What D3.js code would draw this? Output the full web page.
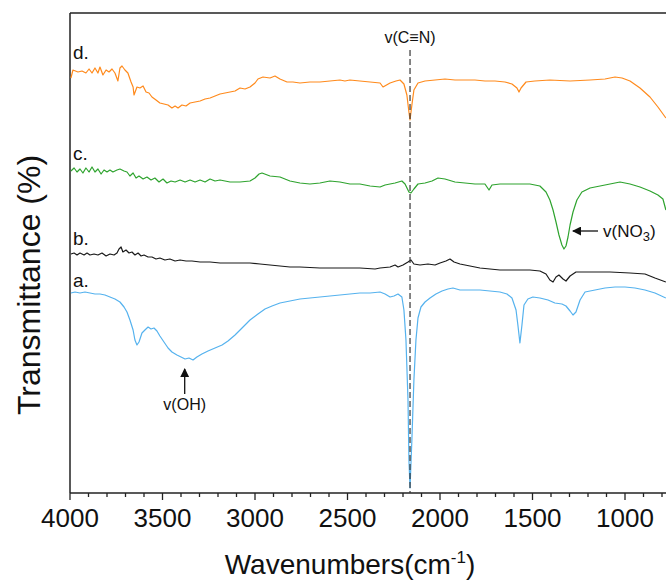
<!DOCTYPE html>
<html><head><meta charset="utf-8">
<script src="https://cdn.jsdelivr.net/npm/d3@7"></script>
<style>
html,body{margin:0;padding:0;background:#fff;}
svg{display:block;font-family:"Liberation Sans",Arial,sans-serif;}
</style></head>
<body>
<svg id="chart" width="666" height="582"></svg>
<script>
// ---- data: [wavenumber (cm-1), transmittance (offset, a.u.)] ----
const seriesD = [[3995,83.0],[3984,84.6],[3957,84.2],[3935,84.4],[3914,84.0],[3897,84.8],[3881,84.0],[3865,85.0],[3849,84.0],[3838,85.2],[3822,83.6],[3805,84.6],[3789,84.2],[3773,84.8],[3757,84.0],[3741,82.4],[3730,85.0],[3719,85.4],[3703,84.6],[3687,84.0],[3670,82.2],[3659,81.2],[3654,79.6],[3638,81.2],[3622,81.0],[3605,81.4],[3589,80.2],[3573,80.0],[3557,79.2],[3535,78.6],[3514,78.0],[3492,77.8],[3470,77.6],[3449,77.0],[3432,77.4],[3416,77.0],[3395,77.6],[3373,77.4],[3351,78.0],[3324,78.2],[3297,78.4],[3270,78.8],[3243,79.0],[3216,79.4],[3189,79.8],[3162,80.0],[3135,80.2],[3108,80.4],[3081,81.0],[3054,80.8],[3027,81.2],[3000,82.0],[2984,82.8],[2957,83.2],[2919,83.0],[2892,83.4],[2865,82.8],[2827,82.2],[2795,82.2],[2757,82.0],[2703,82.2],[2649,82.2],[2595,82.4],[2541,82.6],[2514,82.4],[2487,82.6],[2433,82.4],[2378,82.2],[2324,82.0],[2308,81.2],[2270,82.0],[2238,82.4],[2216,82.6],[2195,81.8],[2179,79.6],[2168,76.2],[2162,74.6],[2152,77.6],[2141,80.6],[2119,82.0],[2081,82.4],[2027,82.6],[1973,82.8],[1919,82.6],[1865,82.6],[1811,82.6],[1757,82.4],[1703,82.4],[1649,82.2],[1611,81.8],[1584,81.0],[1573,80.2],[1562,81.0],[1535,82.2],[1487,82.4],[1406,82.6],[1297,82.4],[1189,82.6],[1108,82.8],[1054,83.2],[1016,83.0],[973,82.4],[919,81.0],[865,79.2],[822,77.2],[779,75.0]];

const seriesC = [[3995,64.4],[3978,65.0],[3962,64.2],[3946,64.8],[3930,64.0],[3914,65.0],[3897,64.2],[3881,65.2],[3865,64.2],[3849,64.8],[3832,63.8],[3816,64.6],[3800,64.2],[3784,64.6],[3768,64.2],[3746,64.6],[3730,64.8],[3708,64.4],[3692,64.2],[3676,63.4],[3659,64.0],[3643,63.0],[3627,63.4],[3605,62.8],[3584,63.2],[3562,62.6],[3541,63.0],[3519,62.2],[3497,62.8],[3476,62.0],[3454,62.4],[3432,62.2],[3405,62.6],[3378,62.2],[3351,62.6],[3324,62.2],[3297,62.6],[3270,62.2],[3243,62.8],[3216,62.4],[3189,62.6],[3162,62.4],[3135,62.2],[3081,62.2],[3027,62.4],[3000,63.0],[2978,63.8],[2962,64.0],[2919,63.4],[2865,63.2],[2811,62.4],[2757,62.0],[2703,61.8],[2649,62.0],[2595,62.4],[2541,62.2],[2487,61.8],[2433,61.8],[2378,61.4],[2324,61.2],[2297,61.6],[2243,62.0],[2206,62.4],[2189,61.8],[2168,60.2],[2157,60.0],[2141,60.8],[2119,61.8],[2081,62.0],[2043,62.4],[2011,63.0],[1973,62.8],[1919,62.2],[1865,62.0],[1811,61.8],[1757,61.8],[1735,60.6],[1719,61.6],[1676,61.8],[1595,61.8],[1514,61.8],[1460,61.4],[1427,60.2],[1406,58.6],[1389,56.6],[1373,54.2],[1357,51.6],[1341,49.6],[1330,48.8],[1319,49.4],[1308,51.2],[1297,53.6],[1281,56.2],[1260,58.6],[1233,60.2],[1189,61.0],[1135,61.4],[1081,61.8],[1054,62.0],[1027,62.2],[973,61.8],[919,61.2],[865,60.4],[822,59.6],[795,58.8],[779,56.6]];

const seriesB = [[3995,47.8],[3978,48.0],[3962,47.6],[3946,48.0],[3924,47.6],[3908,48.0],[3892,47.6],[3870,47.8],[3849,47.6],[3827,48.0],[3805,47.4],[3784,47.8],[3762,47.6],[3746,48.0],[3735,48.8],[3724,49.2],[3714,48.2],[3697,48.6],[3681,48.0],[3665,48.2],[3649,47.6],[3632,48.0],[3616,47.4],[3600,47.6],[3578,47.2],[3557,47.2],[3535,46.8],[3514,47.0],[3487,46.6],[3460,46.8],[3432,46.4],[3405,46.6],[3373,46.4],[3341,46.4],[3297,46.2],[3243,46.2],[3189,46.0],[3135,46.0],[3081,46.0],[3027,46.0],[2973,45.8],[2865,45.4],[2811,45.2],[2757,45.2],[2649,45.0],[2541,45.0],[2433,45.0],[2351,44.8],[2324,45.0],[2270,45.2],[2243,45.6],[2227,45.2],[2200,45.6],[2173,46.2],[2157,46.6],[2141,45.8],[2108,45.6],[2065,45.8],[2027,45.6],[2000,46.0],[1968,46.4],[1946,46.8],[1924,46.2],[1892,45.8],[1838,45.4],[1784,45.0],[1730,44.8],[1676,44.6],[1622,44.6],[1568,44.6],[1514,44.6],[1460,44.4],[1427,43.8],[1406,42.6],[1389,42.2],[1373,43.2],[1357,43.6],[1335,42.8],[1319,42.4],[1297,43.4],[1265,44.2],[1189,44.2],[1081,44.2],[973,44.0],[892,43.8],[838,43.0],[779,42.2]];

const seriesA = [[3995,40.0],[3973,40.2],[3946,40.0],[3919,40.2],[3892,40.0],[3865,39.8],[3838,39.8],[3811,39.6],[3784,39.2],[3757,38.8],[3730,38.2],[3708,37.2],[3692,36.2],[3676,34.6],[3659,32.6],[3649,30.6],[3638,29.6],[3627,30.2],[3611,32.0],[3595,32.6],[3578,33.2],[3562,32.8],[3546,33.0],[3530,32.4],[3514,31.4],[3492,30.2],[3470,29.0],[3449,28.2],[3422,27.6],[3400,27.2],[3378,26.8],[3357,27.0],[3335,26.6],[3314,27.2],[3287,27.8],[3254,28.4],[3216,29.0],[3178,29.6],[3146,30.4],[3108,31.6],[3070,33.0],[3027,34.6],[2984,35.8],[2946,36.8],[2908,37.4],[2865,38.0],[2811,38.4],[2757,38.8],[2703,39.0],[2649,39.2],[2595,39.4],[2541,39.6],[2487,39.8],[2433,40.0],[2378,40.0],[2324,40.2],[2297,39.8],[2270,39.2],[2249,39.4],[2227,39.8],[2206,39.2],[2195,36.6],[2184,30.6],[2173,18.6],[2168,6.6],[2162,1.0],[2152,10.6],[2141,22.6],[2130,30.6],[2119,35.0],[2103,37.2],[2081,38.2],[2054,39.0],[2022,39.8],[1989,40.4],[1957,40.8],[1930,41.0],[1892,40.6],[1838,40.6],[1784,40.6],[1730,40.4],[1676,40.2],[1638,39.8],[1611,39.0],[1589,36.6],[1579,33.6],[1568,30.0],[1557,33.6],[1546,37.6],[1525,38.8],[1498,39.2],[1460,39.0],[1416,38.6],[1379,38.0],[1341,37.8],[1319,37.4],[1297,36.4],[1281,35.6],[1265,36.2],[1243,38.6],[1216,40.2],[1162,40.6],[1108,41.0],[1054,41.2],[1000,41.2],[946,41.0],[892,40.6],[838,40.0],[779,39.0]];

const seriesNames = ["a.", "b.", "c.", "d."];
const seriesColors = ["#55b2ee", "#1a1a1a", "#2ea32e", "#ff8a1c"];
const xTickLabels = [4000, 3500, 3000, 2500, 2000, 1500, 1000];
const cnPeak = 2162;
const annotations = {oh: 3380, no3: 1330};

// ---- layout ----
const W = 666, H = 582;
const mLeft = 70, mTop = 13, mBottom = 493;
const svg = d3.select("#chart");
const x = d3.scaleLinear().domain([4000, 1000]).range([mLeft, 625]);
const y = d3.scaleLinear().domain([0, 96]).range([mBottom, mTop]);

const defs = svg.append("defs");
defs.append("clipPath").attr("id", "clip")
  .append("rect").attr("x", mLeft).attr("y", mTop).attr("width", W - mLeft).attr("height", mBottom - mTop);
defs.append("marker").attr("id", "arr").attr("viewBox", "0 0 10 10").attr("refX", 9).attr("refY", 5)
  .attr("markerWidth", 9).attr("markerHeight", 9).attr("markerUnits", "userSpaceOnUse").attr("orient", "auto")
  .append("path").attr("d", "M0,0 L10,5 L0,10 z").attr("fill", "#111");

// frame
svg.append("line").attr("x1", mLeft).attr("x2", W).attr("y1", mTop).attr("y2", mTop)
  .attr("stroke", "#222").attr("stroke-width", 1.5);
svg.append("line").attr("x1", mLeft).attr("x2", mLeft).attr("y1", mTop).attr("y2", mBottom)
  .attr("stroke", "#222").attr("stroke-width", 1.5);

// x axis
const minor = d3.range(4000, 700, -100);
const xAxisG = svg.append("g").attr("transform", `translate(0,${mBottom})`);
xAxisG.append("line").attr("x1", mLeft).attr("x2", W).attr("y1", 0).attr("y2", 0)
  .attr("stroke", "#222").attr("stroke-width", 1.5);
xAxisG.selectAll("line.tick").data(minor).join("line").attr("class", "tick")
  .attr("x1", d => x(d)).attr("x2", d => x(d)).attr("y1", 0)
  .attr("y2", d => d % 500 === 0 ? 7 : 4)
  .attr("stroke", "#222").attr("stroke-width", 1.3);
xAxisG.selectAll("text").data(xTickLabels).join("text")
  .attr("x", d => x(d)).attr("y", 34).attr("text-anchor", "middle")
  .attr("font-size", 26).attr("fill", "#111").text(d => d);

// axis titles
const xt = svg.append("text").attr("x", 350).attr("y", 574).attr("text-anchor", "middle")
  .attr("font-size", 28).attr("fill", "#111");
xt.append("tspan").text("Wavenumbers(cm");
xt.append("tspan").attr("dy", -11).attr("font-size", 17).text("-1");
xt.append("tspan").attr("dy", 11).text(")");

svg.append("text").attr("transform", `translate(40,285) rotate(-90)`)
  .attr("text-anchor", "middle").attr("font-size", 32).attr("fill", "#111")
  .text("Transmittance (%)");

// curves
const line = d3.line().x(d => x(d[0])).y(d => y(d[1]));
const all = [seriesA, seriesB, seriesC, seriesD];
const g = svg.append("g").attr("clip-path", "url(#clip)");
all.forEach((s, i) => {
  g.append("path").datum(s).attr("d", line).attr("fill", "none")
    .attr("stroke", seriesColors[i]).attr("stroke-width", 1.2).attr("stroke-linejoin", "round");
});
// dashed C≡N line
g.append("line").attr("x1", x(cnPeak)).attr("x2", x(cnPeak)).attr("y1", y(88.6)).attr("y2", mBottom)
  .attr("stroke", "#333").attr("stroke-opacity", 0.85).attr("stroke-width", 1.4).attr("stroke-dasharray", "6,3");

// series labels
const labelY = [41.2, 49.6, 66.6, 86.8];
seriesNames.forEach((n, i) => {
  svg.append("text").attr("x", mLeft + 3).attr("y", y(labelY[i])).attr("font-size", 19)
    .attr("fill", "#111").text(n);
});

// annotations
svg.append("text").attr("x", x(cnPeak)).attr("y", 43).attr("text-anchor", "middle")
  .attr("font-size", 16).attr("fill", "#111").text("v(C\u2261N)");

// v(OH)
svg.append("line").attr("x1", x(annotations.oh)).attr("x2", x(annotations.oh)).attr("y1", 394).attr("y2", 369)
  .attr("stroke", "#111").attr("stroke-width", 1.3).attr("marker-end", "url(#arr)");
svg.append("text").attr("x", x(annotations.oh)).attr("y", 410).attr("text-anchor", "middle")
  .attr("font-size", 16).attr("fill", "#111").text("v(OH)");

// v(NO3)
svg.append("line").attr("x1", 598).attr("x2", x(annotations.no3) + 9).attr("y1", 231).attr("y2", 231)
  .attr("stroke", "#111").attr("stroke-width", 1.3).attr("marker-end", "url(#arr)");
const nt = svg.append("text").attr("x", 603).attr("y", 237).attr("font-size", 17).attr("fill", "#111");
nt.append("tspan").text("v(NO");
nt.append("tspan").attr("dy", 4).attr("font-size", 13).text("3");
nt.append("tspan").attr("dy", -4).text(")");
</script>
</body></html>
